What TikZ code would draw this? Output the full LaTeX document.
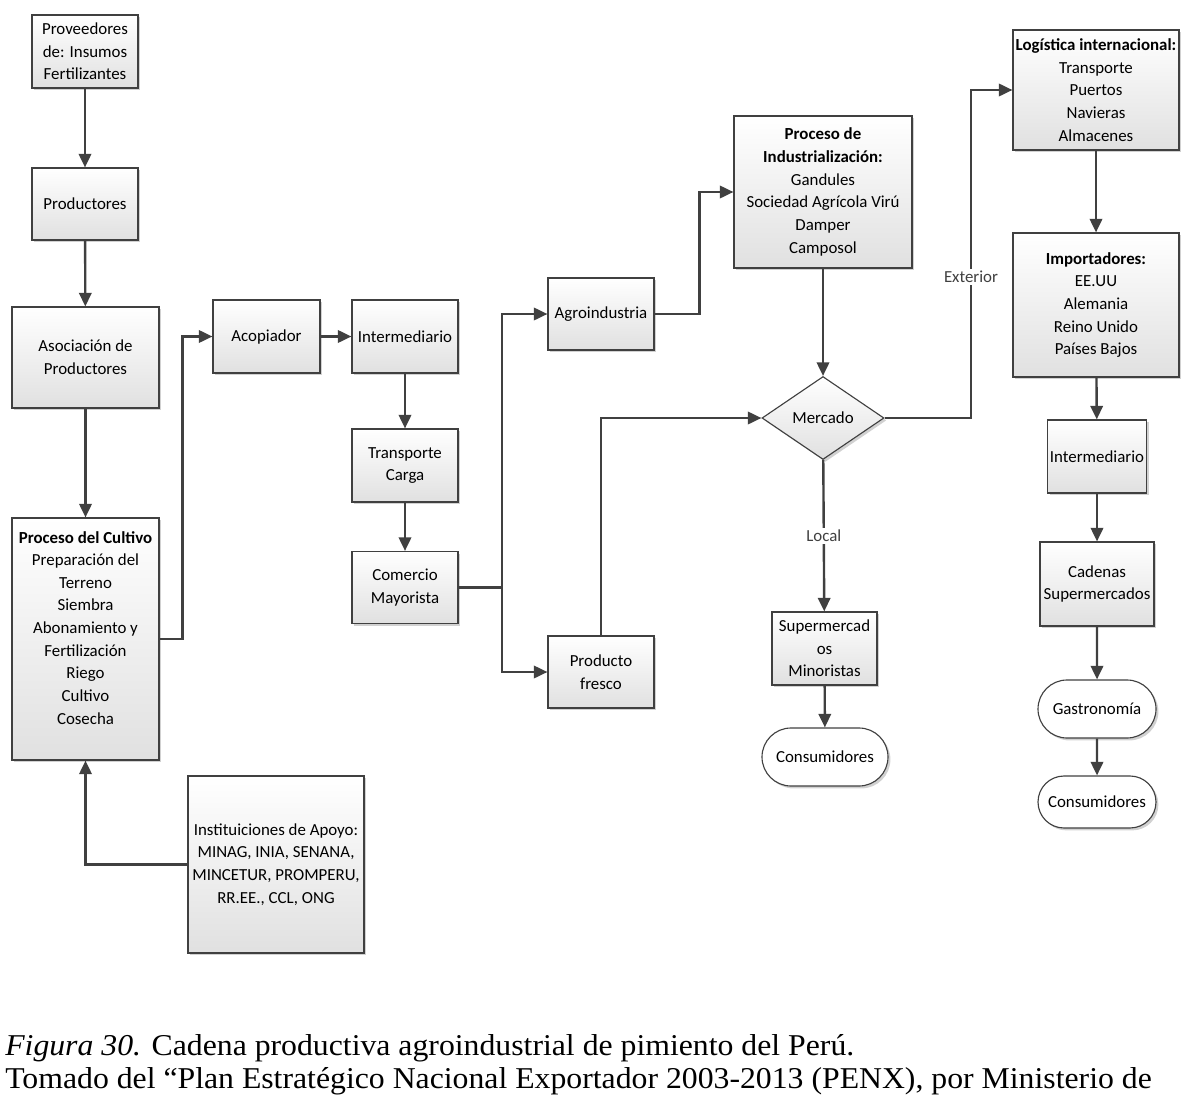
\documentclass[tikz,border=0pt]{standalone}
\usepackage{fontspec}
\setmainfont{Carlito}
\newfontfamily\capfont{Liberation Serif}
\usetikzlibrary{arrows.meta,shadows,shapes.geometric,shapes.misc}
\definecolor{gris}{HTML}{404040}
\tikzset{
  sz/.style 2 args={minimum width=#1*0.025cm,minimum height=#2*0.025cm},
  base/.style={draw=gris,line width=0.8pt,align=center,inner sep=0pt,
    font=\fontsize{12}{16.1}\selectfont,
    drop shadow={shadow xshift=0.06cm,shadow yshift=-0.06cm,fill=black!45,opacity=0.4}},
  caja/.style={base,top color=white,bottom color=black!12},
  fin/.style={base,rounded rectangle,fill=white},
  rombo/.style={caja,diamond},
  trazo/.style={gris,line width=1.7pt},
  flecha/.style={trazo,-{Triangle[length=0.34cm,width=0.31cm]}},
  etiq/.style={fill=white,inner sep=1.5pt,font=\fontsize{12}{14}\selectfont},
  pie/.style={anchor=base west,inner sep=0pt,font=\capfont\fontsize{21.5}{23}\selectfont}
}
\begin{document}
\begin{tikzpicture}[x=0.025cm,y=-0.025cm]
\useasboundingbox (0,0) rectangle (1184,1104);
% productores y cultivo
\node[caja,sz={106}{73}] (prov) at (85,51.5) {Proveedores\\de: Insumos\\Fertilizantes};
\node[caja,sz={106}{72}] (prod) at (85,204) {Productores};
\node[caja,sz={147}{101}] (asoc) at (85.5,357.5) {Asociación de\\Productores};
\node[caja,sz={147}{242}] (cult) at (85.5,639) {\textbf{Proceso del Cultivo}\\Preparación del\\Terreno\\Siembra\\Abonamiento y\\Fertilización\\Riego\\Cultivo\\Cosecha\\\mbox{}};
\node[caja,sz={176}{177}] (inst) at (276,864.5) {Instituiciones de Apoyo:\\MINAG, INIA, SENANA,\\MINCETUR, PROMPERU,\\RR.EE., CCL, ONG};
% comercializacion
\node[caja,sz={107}{73}] (acop) at (266.5,336.5) {Acopiador};
\node[caja,sz={106}{73}] (inter) at (405,336.5) {Intermediario};
\node[caja,sz={106}{73}] (trans) at (405,465.5) {Transporte\\Carga};
\node[caja,sz={106}{72}] (comer) at (405,587.5) {Comercio\\Mayorista};
\node[caja,sz={106}{72}] (agro) at (601,314) {Agroindustria};
\node[caja,sz={106}{72}] (fresco) at (601,672) {Producto\\fresco};
\node[caja,sz={178}{152}] (indus) at (823,192) {\textbf{Proceso de}\\\textbf{Industrialización:}\\Gandules\\Sociedad Agrícola Virú\\Damper\\Camposol};
\node[rombo,sz={122}{83}] (merc) at (823,418) {Mercado};
\node[caja,sz={105}{73}] (super) at (824.5,648.5) {Supermercad\\os\\Minoristas};
\node[fin,sz={126}{58}] (cons1) at (825,757) {Consumidores};
% exportacion
\node[caja,sz={166}{120}] (logis) at (1096,90) {\textbf{Logística internacional:}\\Transporte\\Puertos\\Navieras\\Almacenes};
\node[caja,sz={166}{144}] (impor) at (1096,305) {\textbf{Importadores:}\\EE.UU\\Alemania\\Reino Unido\\Países Bajos};
\node[caja,sz={99}{73}] (inter2) at (1097,456.5) {Intermediario};
\node[caja,sz={114}{84}] (caden) at (1097,584) {Cadenas\\Supermercados};
\node[fin,sz={118}{58}] (gastro) at (1097,709) {Gastronomía};
\node[fin,sz={118}{52}] (cons2) at (1097,802) {Consumidores};
\coordinate (reparto) at (502,587.5);
\coordinate (exterior) at (971,277);
\draw[flecha] (prov) -- (prod);
\draw[flecha] (prod) -- (asoc);
\draw[flecha] (asoc) -- (cult);
\draw[flecha] (inst) -| (cult);
\draw[flecha] (cult.east) -- ++(23,0) |- (acop);
\draw[flecha] (acop) -- (inter);
\draw[flecha] (inter) -- (trans);
\draw[flecha] (trans) -- (comer);
\draw[trazo] (comer) -- (reparto);
\draw[flecha] (reparto) |- (agro);
\draw[flecha] (reparto) |- (fresco);
\draw[flecha] (agro.east) -- ++(45,0) |- (indus);
\draw[flecha] (fresco) |- (merc);
\draw[flecha] (indus) -- (merc);
\draw[flecha] (merc) -- node[etiq]{Local} (super);
\draw[flecha] (super) -- (cons1);
\draw[flecha] (merc) -| (exterior) node[etiq]{Exterior} |- (logis);
\draw[flecha] (logis) -- (impor);
\draw[flecha] (impor) -- (inter2);
\draw[flecha] (inter2) -- (caden);
\draw[flecha] (caden) -- (gastro);
\draw[flecha] (gastro) -- (cons2);
% leyenda
\node[pie] (cap1) at (5,1055) {\scalebox{1.05}[1]{\textit{Figura 30.} Cadena productiva agroindustrial de pimiento del Perú.}};
\node[pie] (cap2) at (5,1088) {\scalebox{1.05}[1]{Tomado del “Plan Estratégico Nacional Exportador 2003-2013 (PENX), por Ministerio de}};
\end{tikzpicture}
\end{document}
